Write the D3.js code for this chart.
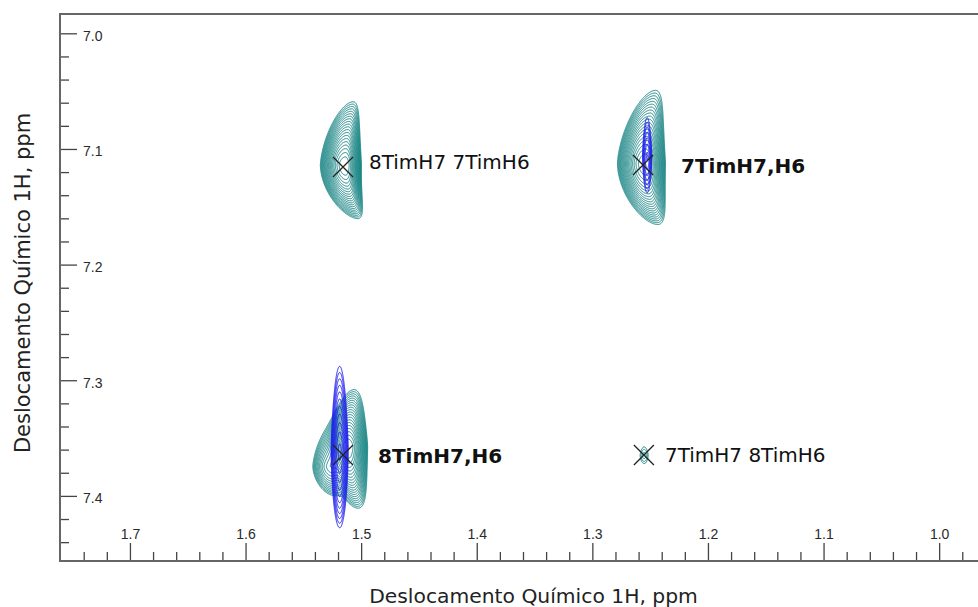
<!DOCTYPE html>
<html>
<head>
<meta charset="utf-8">
<script src="https://cdn.jsdelivr.net/npm/d3@7"></script>
<style>
  html, body { margin: 0; padding: 0; background: #fff; }
  svg { display: block; }
</style>
</head>
<body>
<svg id="chart" width="978" height="607"></svg>
<script>
// ---- Axis ranges and tick values (ppm) ----
const xDomain = [1.7605, 0.9664];          // F2 axis runs high → low
const yDomain = [6.9833, 7.4563];          // F1 axis runs low → high (downwards)
const xMajorTicks = [1.7, 1.6, 1.5, 1.4, 1.3, 1.2, 1.1, 1.0];
const yMajorTicks = [7.0, 7.1, 7.2, 7.3, 7.4];
const minorStep = 0.02;
const axisTitle = "Deslocamento Químico 1H, ppm";

// ---- Cross-peak assignments ----
const peakLabels = ["8TimH7 7TimH6", "7TimH7,H6", "8TimH7,H6", "7TimH7 8TimH6"];
const peakX = [1.5157, 1.2562, 1.5157, 1.2554];
const peakY = [7.1156, 7.1139, 7.3646, 7.3646];
const peakBold = [false, true, true, false];

// ---- Contour components of each spectrum (ppm, relative height) ----
// x, y: centre; left/right/up/down: extent of the lowest contour;
// tipUp/tipDown: shift of the upper/lower tip towards lower ppm.
const tealPeaks = [
  { x: 1.5140, y: 7.1135, left: 0.0215, right: 0.0140, up: 0.0545, down: 0.0465, tipUp: 0.0070, tipDown: 0.0110, height: 40 },
  { x: 1.2545, y: 7.1121, left: 0.0240, right: 0.0175, up: 0.0630, down: 0.0530, tipUp: 0.0090, tipDown: 0.0110, height: 40 },
  { x: 1.5114, y: 7.3569, left: 0.0175, right: 0.0168, up: 0.0490, down: 0.0535, tipUp: 0.0050, tipDown: 0.0085, height: 40 },
  { x: 1.5270, y: 7.3741, left: 0.0150, right: 0.0104, up: 0.0340, down: 0.0250, tipUp: 0.0020, tipDown: 0.0030, height: 8 },
  { x: 1.2554, y: 7.3646, left: 0.0035, right: 0.0035, up: 0.0072, down: 0.0072, tipUp: 0.0, tipDown: 0.0, height: 1.6 }
];
const bluePeaks = [
  { x: 1.2528, y: 7.1052, left: 0.0040, right: 0.0040, up: 0.0325, down: 0.0325, tipUp: 0.0, tipDown: 0.0, height: 4 },
  { x: 1.5188, y: 7.3603, left: 0.0074, right: 0.0074, up: 0.0725, down: 0.0670, tipUp: 0.0, tipDown: 0.0, height: 10 }
];
const tealLevels = { base: 1, ratio: 1.2, count: 20 };
const blueLevels = { base: 1, ratio: 1.25, count: 12 };
// sharpness of the F1 profile above / below the centre (2 = elliptic)
const lineshape = { up: 1.35, down: 1.7 };

// ---- Layout ----
const W = 978, H = 607;
const plot = { left: 60, top: 14, right: 978, bottom: 561 };
const colors = { teal: "#128282", blue: "#1c1cf0", axis: "#666", tick: "#444", text: "#111" };
const labelLayout = [ { dx: 26, dy: 2 }, { dx: 38, dy: 8 }, { dx: 35, dy: 8 }, { dx: 21, dy: 7 } ];

const svg = d3.select("#chart");
const x = d3.scaleLinear().domain(xDomain).range([plot.left, plot.right]);
const y = d3.scaleLinear().domain(yDomain).range([plot.top, plot.bottom]);

// ---- Contours ----
function intensity(c, xp, yp) {
  const dy = yp - c.y;
  const above = dy < 0;
  const v = Math.abs(dy) / (above ? c.up : c.down);
  const ridge = c.x - (above ? c.tipUp : c.tipDown) * v * v;
  const dx = ridge - xp;
  const u = dx / (dx < 0 ? c.left : c.right);
  const vt = Math.pow(v, above ? lineshape.up : lineshape.down);
  return Math.exp(Math.log(c.height) * (1 - u * u - vt));
}

function drawSpectrum(peaks, levels, color) {
  const res = 0.5;
  const pad = 6;
  const x0 = Math.floor(d3.min(peaks, p => x(p.x + p.left * 1.4))) - pad;
  const x1 = Math.ceil(d3.max(peaks, p => x(p.x - p.right * 1.4))) + pad;
  const y0 = Math.floor(d3.min(peaks, p => y(p.y - p.up * 1.3))) - pad;
  const y1 = Math.ceil(d3.max(peaks, p => y(p.y + p.down * 1.3))) + pad;
  const n = Math.ceil((x1 - x0) / res), m = Math.ceil((y1 - y0) / res);
  const values = new Float64Array(n * m);
  for (let j = 0; j < m; j++) {
    const yp = y.invert(y0 + j * res);
    for (let i = 0; i < n; i++) {
      const xp = x.invert(x0 + i * res);
      let s = 0;
      for (const p of peaks) s += intensity(p, xp, yp);
      values[j * n + i] = s;
    }
  }
  const thresholds = d3.range(levels.count).map(k => levels.base * Math.pow(levels.ratio, k));
  const contours = d3.contours().size([n, m]).thresholds(thresholds)(values);
  const path = d3.geoPath(d3.geoTransform({
    point(px, py) { this.stream.point(x0 + px * res, y0 + py * res); }
  }));
  svg.append("g")
    .attr("fill", "none")
    .attr("stroke", color)
    .attr("stroke-width", 1)
    .selectAll("path")
    .data(contours)
    .join("path")
    .attr("d", path);
}

drawSpectrum(tealPeaks, tealLevels, colors.teal);
drawSpectrum(bluePeaks, blueLevels, colors.blue);

// ---- Axes ----
const xMinor = d3.range(1.74, 0.97, -minorStep).map(v => +v.toFixed(2))
  .filter(v => !xMajorTicks.some(t => Math.abs(t - v) < 1e-6));
const yMinor = d3.range(7.02, 7.45, minorStep).map(v => +v.toFixed(2))
  .filter(v => !yMajorTicks.some(t => Math.abs(t - v) < 1e-6));

function styleAxis(g) {
  g.select(".domain").remove();
  g.selectAll(".tick line").attr("stroke", colors.tick).attr("stroke-width", 1.3);
  g.selectAll(".tick text")
    .attr("fill", "#2a2a2a")
    .style("font-family", "'Liberation Sans', Arial, sans-serif")
    .style("font-size", "14px");
}

svg.append("g").attr("transform", `translate(0,${plot.bottom})`)
  .call(d3.axisTop(x).tickValues(xMinor).tickSize(9).tickFormat(""))
  .call(styleAxis);
svg.append("g").attr("transform", `translate(0,${plot.bottom})`)
  .call(d3.axisTop(x).tickValues(xMajorTicks).tickSize(18).tickPadding(4).tickFormat(d3.format(".1f")))
  .call(styleAxis);

svg.append("g").attr("transform", `translate(${plot.left},0)`)
  .call(d3.axisRight(y).tickValues(yMinor).tickSize(9).tickFormat(""))
  .call(styleAxis);
svg.append("g").attr("transform", `translate(${plot.left},0)`)
  .call(d3.axisRight(y).tickValues(yMajorTicks).tickSize(17).tickPadding(6).tickFormat(d3.format(".1f")))
  .call(styleAxis)
  .selectAll(".tick text").attr("dy", "0.5em");

// frame: left, top and bottom edges
svg.append("path")
  .attr("d", `M${W},${plot.top}H${plot.left}V${plot.bottom}H${W}`)
  .attr("fill", "none")
  .attr("stroke", colors.axis)
  .attr("stroke-width", 2);

// ---- Axis titles ----
svg.append("text")
  .attr("x", 533.5).attr("y", 603)
  .attr("text-anchor", "middle")
  .attr("fill", "#222")
  .style("font-family", "'DejaVu Sans', sans-serif")
  .style("font-size", "20.3px")
  .text(axisTitle);

svg.append("text")
  .attr("transform", "translate(30,283) rotate(-90)")
  .attr("text-anchor", "middle")
  .attr("fill", "#222")
  .style("font-family", "'DejaVu Sans', sans-serif")
  .style("font-size", "21px")
  .text(axisTitle);

// ---- Peak markers and assignments ----
const markers = peakX.map((px, i) => ({ x: px, y: peakY[i], label: peakLabels[i], bold: peakBold[i], layout: labelLayout[i] }));
const mk = 10;
const mg = svg.append("g");
mg.selectAll("path.cross")
  .data(markers)
  .join("path")
  .attr("class", "cross")
  .attr("d", d => {
    const cx = x(d.x), cy = y(d.y);
    return `M${cx - mk},${cy - mk}L${cx + mk},${cy + mk}M${cx - mk},${cy + mk}L${cx + mk},${cy - mk}`;
  })
  .attr("stroke", "#222")
  .attr("stroke-width", 1.3)
  .attr("fill", "none");

mg.selectAll("text.assign")
  .data(markers)
  .join("text")
  .attr("class", "assign")
  .attr("x", d => x(d.x) + d.layout.dx)
  .attr("y", d => y(d.y) + d.layout.dy)
  .attr("fill", colors.text)
  .style("font-family", "'DejaVu Sans', sans-serif")
  .style("font-size", "20px")
  .style("font-weight", d => d.bold ? "bold" : "normal")
  .text(d => d.label);
</script>
</body>
</html>
